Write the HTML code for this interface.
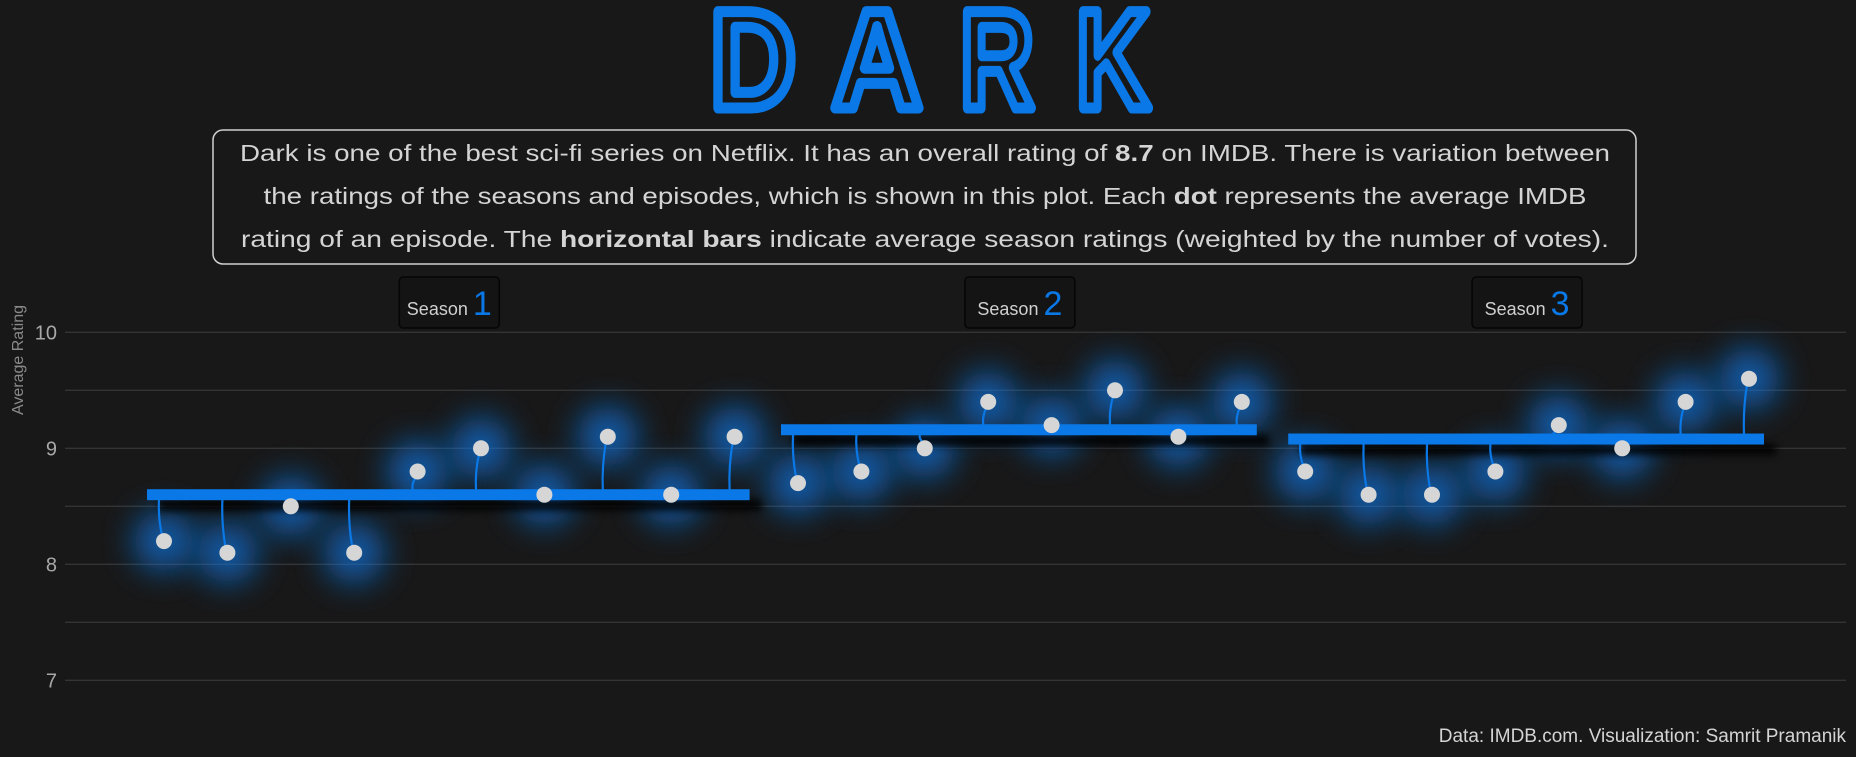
<!DOCTYPE html>
<html><head><meta charset="utf-8"><style>
html,body{margin:0;padding:0;background:#181818;}
svg{display:block;}
text{font-family:"Liberation Sans",sans-serif;}
</style></head><body>
<svg id="chart" width="1856" height="757" viewBox="0 0 1856 757" xmlns="http://www.w3.org/2000/svg">
<defs>
<filter id="glow" x="-2" y="-2" width="5" height="5"><feGaussianBlur stdDeviation="16"/></filter>
<filter id="shadow" x="-0.1" y="-2" width="1.2" height="5"><feGaussianBlur stdDeviation="4"/></filter>
</defs>
<rect width="1856" height="757" fill="#181818"/>
<g font-weight="bold" font-size="140" fill="#181818" stroke="#0a78e6" stroke-width="11" stroke-linejoin="round" text-anchor="middle">
<text x="753" y="108" textLength="86" lengthAdjust="spacingAndGlyphs">D</text>
<text x="877" y="108" textLength="90" lengthAdjust="spacingAndGlyphs">A</text>
<text x="997" y="108" textLength="74" lengthAdjust="spacingAndGlyphs">R</text>
<text x="1113" y="108" textLength="74" lengthAdjust="spacingAndGlyphs">K</text>
</g>
<g>
<rect x="213" y="130" width="1423" height="134" rx="10" fill="#181818" stroke="#d0d0d0" stroke-width="1.5"/>
<g fill="#d4d4d4" font-size="23" text-anchor="middle">
<text x="925" y="161" textLength="1370" lengthAdjust="spacingAndGlyphs">Dark is one of the best sci-fi series on Netflix. It has an overall rating of <tspan font-weight="bold">8.7</tspan> on IMDB.  There is variation between</text>
<text x="925" y="204" textLength="1323" lengthAdjust="spacingAndGlyphs">the ratings of the seasons and episodes, which is shown in this plot. Each <tspan font-weight="bold">dot</tspan> represents the average IMDB</text>
<text x="925" y="247" textLength="1368" lengthAdjust="spacingAndGlyphs">rating of an episode. The <tspan font-weight="bold">horizontal bars</tspan> indicate average season ratings (weighted by the number of votes).</text>
</g>
</g>
<g id="grid"></g>
<g id="yticks"></g>
<text transform="translate(23,360) rotate(-90)" text-anchor="middle" font-size="16" fill="#8a8a8a">Average Rating</text>
<g id="labels"></g>
<g id="glows"></g>
<g id="shadows"></g>
<g id="stems"></g>
<g id="bars"></g>
<g id="dots"></g>
<text x="1846" y="742" text-anchor="end" font-size="19" fill="#d4d4d4">Data: IMDB.com.  Visualization: Samrit Pramanik</text>
</svg>
<script>
const seasons = [1, 2, 3];
const season1Ratings = [8.2, 8.1, 8.5, 8.1, 8.8, 9.0, 8.6, 9.1, 8.6, 9.1];
const season2Ratings = [8.7, 8.8, 9.0, 9.4, 9.2, 9.5, 9.1, 9.4];
const season3Ratings = [8.8, 8.6, 8.6, 8.8, 9.2, 9.0, 9.4, 9.6];
const seasonAverages = [8.6, 9.16, 9.08];
const yTicks = [7, 8, 9, 10];
const yGrid = [7, 7.5, 8, 8.5, 9, 9.5, 10];

const NS = "http://www.w3.org/2000/svg";
const allSeasons = [season1Ratings, season2Ratings, season3Ratings];
function yScale(v){ return 680.3 - (v - 7) * 116; }
function xScale(i){ return 164 + 63.4 * i; }
function mk(tag, attrs, parent){
  const e = document.createElementNS(NS, tag);
  for (const k in attrs) e.setAttribute(k, attrs[k]);
  parent.appendChild(e); return e;
}
const grid = document.getElementById('grid');
yGrid.forEach(v => {
  const l = mk('line', {x1:65, x2:1846, y1:yScale(v), y2:yScale(v), stroke:'#343434', 'stroke-width':1.3}, grid);
  
  
});
const yt = document.getElementById('yticks');
yTicks.forEach(v => {
  const t = mk('text', {x:57, y:yScale(v)+7, 'text-anchor':'end', 'font-size':20, fill:'#a8a8a8'}, yt);
  t.textContent = v;
  
  
});
const G = id => document.getElementById(id);
let idx = 0;
allSeasons.forEach((ratings, s) => {
  const i0 = idx, i1 = idx + ratings.length - 1;
  const xa = xScale(i0) - 17, xb = xScale(i1) + 15, yb = yScale(seasonAverages[s]);
  const cx = (xScale(i0) + xScale(i1)) / 2;
  const bw = s === 0 ? 100 : 110;
  const box = mk('rect', {x:cx-bw/2, y:277, width:bw, height:51, rx:4, fill:'#141414', stroke:'#050505', 'stroke-width':1.5}, G('labels'));
  
  
  const lt = mk('text', {x:cx, y:315, 'text-anchor':'middle', fill:'#d0d0d0', 'font-size':18}, G('labels'));
  
  
  lt.innerHTML = 'Season <tspan fill="#0a78e6" font-size="34">' + seasons[s] + '</tspan>';
  const sh = mk('rect', {x:xa+12, y:yb+5, width:xb-xa, height:11, fill:'#000', opacity:0.9}, G('shadows'));
  sh.setAttribute('filter', 'url(#shadow)');
  
  
  const b = mk('rect', {x:xa, y:yb-5.5, width:xb-xa, height:11, fill:'#0a78e6'}, G('bars'));
  
  
  ratings.forEach((r, k) => {
    const x = xScale(idx), y = yScale(r);
    const g = mk('circle', {cx:x, cy:y, r:30, fill:'#0a78e6', opacity:0.7, filter:'url(#glow)'}, G('glows'));
    
    
    if (Math.abs(y - yb) > 10) {
      const ys = y > yb ? yb + 5 : yb - 5;
      const ye = y > yb ? y - 6 : y + 6;
      const d = 'M' + (x - 5) + ' ' + ys + ' Q' + (x - 6) + ' ' + ((ys + ye) / 2) + ' ' + (x - 2) + ' ' + ye + ' L' + x + ' ' + (y > yb ? y - 2 : y + 2);
      const p = mk('path', {d:d, fill:'none', stroke:'#0a78e6', 'stroke-width':2.2}, G('stems'));
      
      
    }
    const c = mk('circle', {cx:x, cy:y, r:8, fill:'#d6d6d6'}, G('dots'));
    
    
    idx++;
  });
});
</script>
</body></html>
